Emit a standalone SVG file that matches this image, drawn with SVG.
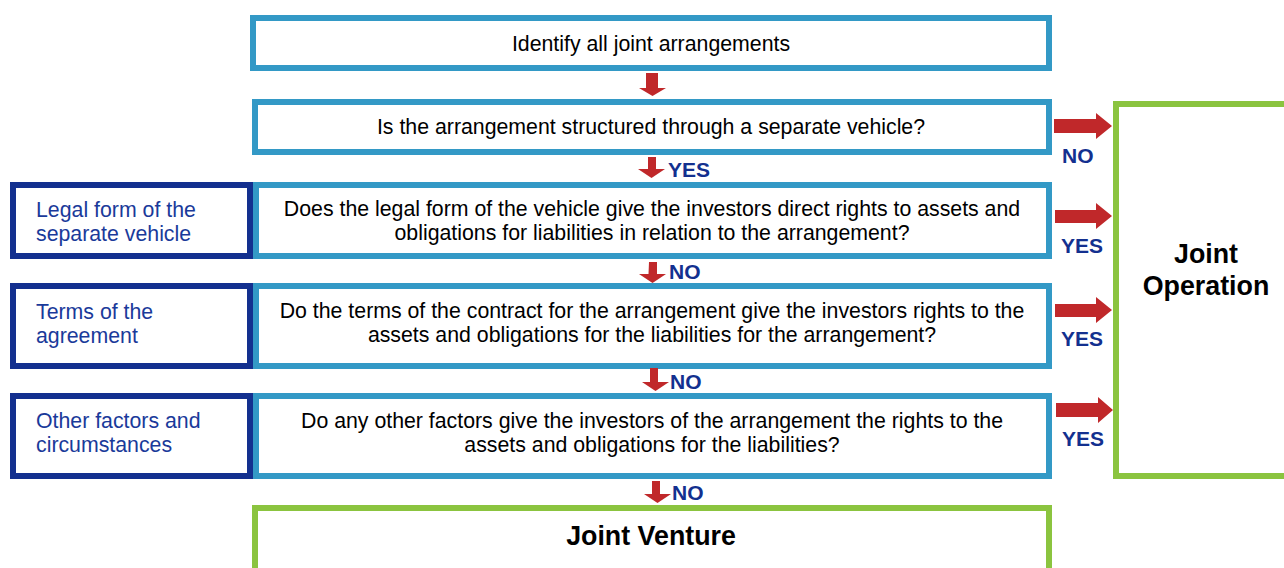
<svg xmlns="http://www.w3.org/2000/svg" width="1284" height="568" viewBox="0 0 1284 568">
<defs>
<style>
.q{fill:#fff;stroke:#3399c6;stroke-width:6}
.f{fill:#fff;stroke:#13308f;stroke-width:6}
.r{fill:#fff;stroke:#8bc43f;stroke-width:6}
.t{font-family:"Liberation Sans",Arial,sans-serif;font-size:21.3px;fill:#000;text-anchor:middle}
.ft{font-family:"Liberation Sans",Arial,sans-serif;font-size:21.3px;fill:#1a3a9a}
.b{font-family:"Liberation Sans",Arial,sans-serif;font-size:26.8px;font-weight:bold;fill:#000;text-anchor:middle}
.l{font-family:"Liberation Sans",Arial,sans-serif;font-size:21px;font-weight:bold;fill:#13308f}
.a{fill:#c0282a}
</style>
</defs>
<rect width="1284" height="568" fill="#fff"/>
<g id="n1"><rect class="q" x="253" y="18" width="796" height="50"/><text class="t" x="651" y="51">Identify all joint arrangements</text></g>
<g id="n2"><rect class="q" x="255" y="102" width="794" height="50"/><text class="t" x="651" y="134">Is the arrangement structured through a separate vehicle?</text></g>
<g id="n3"><rect class="q" x="256" y="185" width="793" height="71"/><text class="t" x="652" y="216">Does the legal form of the vehicle give the investors direct rights to assets and</text><text class="t" x="652" y="240">obligations for liabilities in relation to the arrangement?</text></g>
<g id="f3"><rect class="f" x="13" y="185" width="237" height="71"/><text class="ft" x="36" y="217">Legal form of the</text><text class="ft" x="36" y="241">separate vehicle</text></g>
<g id="n4"><rect class="q" x="256" y="286" width="793" height="80"/><text class="t" x="652" y="318">Do the terms of the contract for the arrangement give the investors rights to the</text><text class="t" x="652" y="342">assets and obligations for the liabilities for the arrangement?</text></g>
<g id="f4"><rect class="f" x="13" y="286" width="237" height="80"/><text class="ft" x="36" y="319">Terms of the</text><text class="ft" x="36" y="343">agreement</text></g>
<g id="n5"><rect class="q" x="256" y="396" width="793" height="80"/><text class="t" x="652" y="428">Do any other factors give the investors of the arrangement the rights to the</text><text class="t" x="652" y="452">assets and obligations for the liabilities?</text></g>
<g id="f5"><rect class="f" x="13" y="396" width="237" height="80"/><text class="ft" x="36" y="428">Other factors and</text><text class="ft" x="36" y="452">circumstances</text></g>
<g id="jo"><rect class="r" x="1116" y="104" width="200" height="372"/><text class="b" x="1206" y="263">Joint</text><text class="b" x="1206" y="295">Operation</text></g>
<g id="jv"><rect class="r" x="255" y="508" width="794" height="80"/><text class="b" x="651" y="545">Joint Venture</text></g>
<g id="connectors">
<path class="a" d="M646 73h12v15h8l-13.5 8l-13.5-8h7z"/>
<path class="a" d="M648 157h8v12h9l-13.5 9l-13.5-9h10z"/>
<text class="l" x="668" y="177">YES</text>
<path class="a" d="M649 262h8v12h9l-13.5 9l-13.5-9h9.5z"/>
<text class="l" x="669" y="279">NO</text>
<path class="a" d="M650 368h8v14h11l-13.5 9l-13.5-9h8z"/>
<text class="l" x="670" y="389">NO</text>
<path class="a" d="M652 481h8v13h11l-13.5 9l-13.5-9h8z"/>
<text class="l" x="672" y="500">NO</text>
<path class="a" d="M1054 119h42v-6l16 13l-16 13v-6h-42z"/>
<text class="l" x="1062" y="163">NO</text>
<path class="a" d="M1055 210h41v-7l16 13l-16 13v-6h-41z"/>
<text class="l" x="1061" y="253">YES</text>
<path class="a" d="M1055 304h41v-7l16 13l-16 13v-6h-41z"/>
<text class="l" x="1061" y="346">YES</text>
<path class="a" d="M1056 403h42v-6l15 13l-15 13v-6h-42z"/>
<text class="l" x="1062" y="446">YES</text>
</g>
</svg>
